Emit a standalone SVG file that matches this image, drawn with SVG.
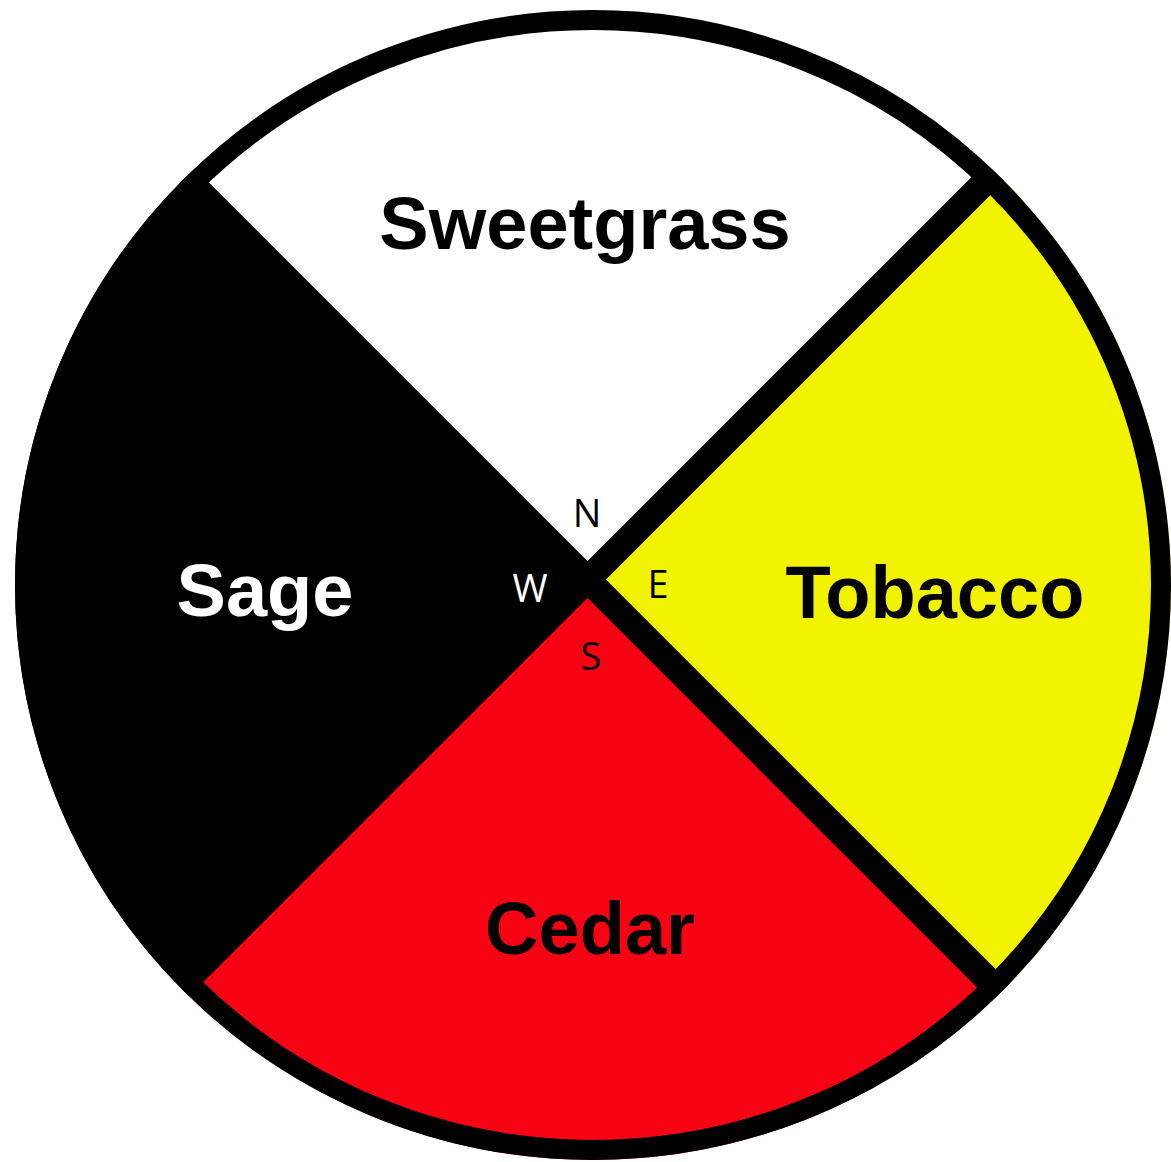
<svg xmlns="http://www.w3.org/2000/svg" width="1171" height="1162" viewBox="0 0 1171 1162">
  <style>
    .big { font-family: "Liberation Sans", Arial, sans-serif; font-weight: bold; font-size: 74px; text-anchor: middle; }
    .dir { font-family: "Open Sans", "Noto Sans", sans-serif; font-size: 38px; text-anchor: middle; }
    .divider { stroke: #000; stroke-width: 26; fill: none; }
  </style>
  <defs>
    <clipPath id="wheel">
      <ellipse cx="593" cy="585" rx="578" ry="575"/>
    </clipPath>
  </defs>
  <rect width="1171" height="1162" fill="#fff"/>
  <g clip-path="url(#wheel)">
    <g id="north">
      <polygon points="587.5,579.5 -412.5,-420.5 1587.5,-420.5" fill="#fff"/>
    </g>
    <g id="east">
      <polygon points="587.5,579.5 1587.5,-420.5 1587.5,1579.5" fill="#f2f300"/>
    </g>
    <g id="south">
      <polygon points="587.5,579.5 1587.5,1579.5 -412.5,1579.5" fill="#f80313"/>
    </g>
    <g id="west">
      <polygon points="587.5,579.5 -412.5,1579.5 -412.5,-420.5" fill="#000"/>
    </g>
    <g id="connectors">
      <line class="divider" x1="-412.5" y1="-420.5" x2="1587.5" y2="1579.5"/>
      <line class="divider" x1="1587.5" y1="-420.5" x2="-412.5" y2="1579.5"/>
    </g>
  </g>
  <g id="rim">
    <ellipse cx="593" cy="585" rx="568" ry="565" fill="none" stroke="#000" stroke-width="20"/>
  </g>
  <g id="label-sweetgrass"><text class="big" x="585" y="249" fill="#000">Sweetgrass</text></g>
  <g id="label-tobacco"><text class="big" x="935" y="618" fill="#000">Tobacco</text></g>
  <g id="label-sage"><text class="big" x="265" y="616" fill="#fff">Sage</text></g>
  <g id="label-cedar"><text class="big" x="590" y="954" fill="#000">Cedar</text></g>
  <g id="compass">
    <text class="dir" x="587" y="527" fill="#000">N</text>
    <text class="dir" x="530" y="602" fill="#fff">W</text>
    <text class="dir" x="658" y="598" fill="#000">E</text>
    <text class="dir" x="591" y="670" fill="#000">S</text>
  </g>
</svg>
